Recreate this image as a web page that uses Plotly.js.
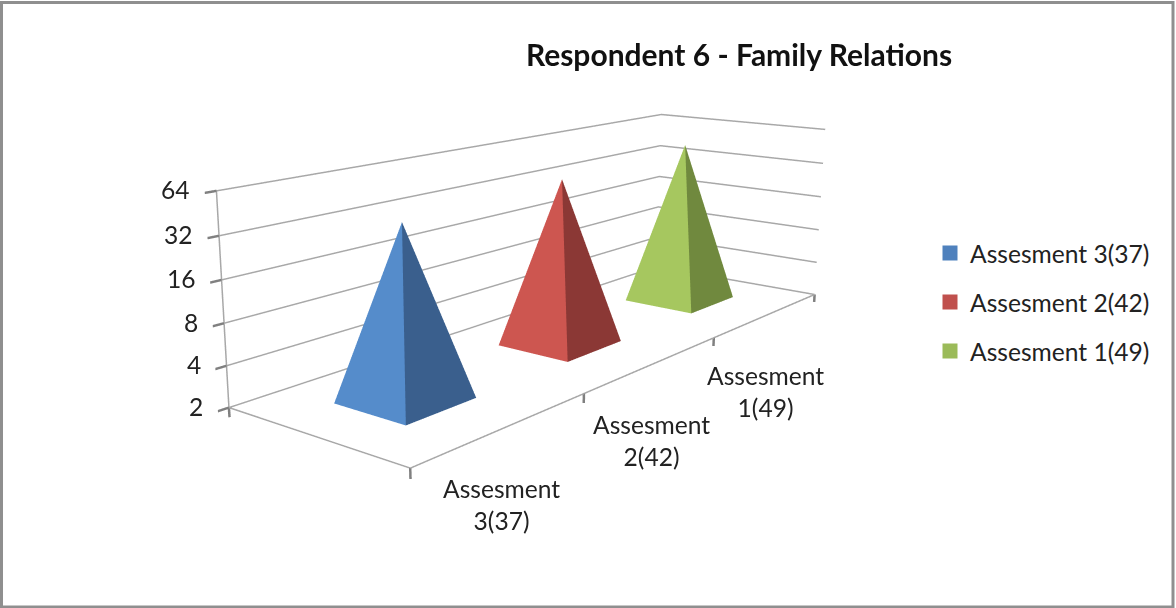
<!DOCTYPE html>
<html><head><meta charset="utf-8">
<script src="https://cdn.plot.ly/plotly-3.0.1.min.js"></script>
<style>html,body{margin:0;padding:0;background:#fff;overflow:hidden;width:1176px;height:608px}
#wrap{position:absolute;left:0;top:0;width:1176px;height:608px;overflow:hidden}
#c{position:absolute;left:-170px;top:-239.5px;width:1346px;height:1081px}</style>
</head><body><div id="wrap"><div id="c"></div></div>
<script>
const categories = ["Assesment 3(37)", "Assesment 2(42)", "Assesment 1(49)"];
const categoryLabels = ["Assesment<br>3(37)", "Assesment<br>2(42)", "Assesment<br>1(49)"];
const values = [37, 42, 49];
const axisTicks = [2, 4, 8, 16, 32, 64];
const lightColors = ["#558ccb", "#cd5650", "#a6c75f"];
const darkColors = ["#3a5f8d", "#8b3835", "#70893e"];
const legendColors = ["#4f81bd", "#c0504d", "#9bbb59"];

const W = 1346, H = 1081, OX = 170, OY = 239.5;
const px = v => (v + OX) / W, py = v => 1 - (v + OY) / H;
const half = 0.2, base = axisTicks[0], zFloorLow = 1.70;

const traces = [];
categories.forEach((name, i) => {
  const cx = i + 0.49, cy = 0.51;
  traces.push({
    type: "mesh3d", name: name, showlegend: false,
    x: [cx - half, cx + half, cx + half, cx - half, cx],
    y: [cy - half, cy - half, cy + half, cy + half, cy],
    z: [base, base, base, base, values[i]],
    i: [0, 1, 2, 3], j: [1, 2, 3, 0], k: [4, 4, 4, 4],
    facecolor: [darkColors[i], darkColors[i], lightColors[i], lightColors[i]],
    flatshading: true,
    lighting: {ambient: 1, diffuse: 0, specular: 0, roughness: 1, fresnel: 0},
    hoverinfo: "name"
  });
});
const zTop = axisTicks[axisTicks.length - 1];
// floor edges and the wall edge, from the axis extents
traces.push({type: "scatter3d", mode: "lines", showlegend: false, hoverinfo: "skip",
  x: [0, 0, 3, null, 0, 0], y: [1, 0, 0, null, 1, 1], z: [base, base, base, null, base, zTop],
  line: {color: "#a8a8a8", width: 3}});
// tick marks hanging under the floor
const tx = [], ty = [], tz = [];
[0, 1, 2, 3].forEach(k => { tx.push(k, k, null); ty.push(0, 0, null); tz.push(base, zFloorLow, null); });
tx.push(0, 0); ty.push(1, 1); tz.push(base, zFloorLow);
traces.push({type: "scatter3d", mode: "lines", showlegend: false, hoverinfo: "skip",
  x: tx, y: ty, z: tz, line: {color: "#808080", width: 5}});
// legend entries: markers sit inside the pyramids' bodies
categories.forEach((name, i) => traces.push({type: "scatter3d", mode: "markers", name: name,
  legendgroup: name, hoverinfo: "skip", x: [i + 0.49], y: [0.51], z: [base * 1.4],
  marker: {symbol: "square", size: 15, color: legendColors[i], line: {width: 0}}}));

const annotations = [];
const labelFont = {family: "Lato", size: 24.6, color: "#222"};
axisTicks.forEach(t => annotations.push({x: 0, y: 1, z: Math.log10(t), text: String(t), showarrow: false,
  xanchor: "right", yanchor: "middle", xshift: -24, yshift: 1, font: labelFont}));
categoryLabels.forEach((t, i) => annotations.push({x: i + 0.5, y: 0, z: Math.log10(base), text: t, showarrow: false,
  xanchor: "center", yanchor: "middle", yshift: -77, xshift: -2, font: labelFont}));
const common = {showbackground: false, showspikes: false, zeroline: false, showticklabels: false,
  showline: false, title: {text: ""}, showgrid: false, ticks: ""};
const layout = {
  width: W, height: H, margin: {l: 0, r: 0, t: 0, b: 0, pad: 0},
  paper_bgcolor: "#fff",
  title: {text: "<b>Respondent 6 - Family Relations</b>", x: px(739), xanchor: "center", y: py(55), yanchor: "middle",
    font: {family: "Lato", size: 30, color: "#111"}},
  scene: {
    domain: {x: [0, 1], y: [0, 1]},
    aspectmode: "manual", aspectratio: {x: 0.678, y: 0.2162, z: 0.1995},
    camera: {projection: {type: "perspective"},
      eye: {x: -1.0144, y: -0.7561, z: 0.2924},
      center: {x: -0.052, y: 0.036, z: -0.04265},
      up: {x: 0, y: 0, z: 1}},
    xaxis: Object.assign({}, common, {range: [0, 3]}),
    yaxis: Object.assign({}, common, {range: [0, 1]}),
    zaxis: Object.assign({}, common, {type: "log", range: [Math.log10(zFloorLow), Math.log10(zTop)], tickmode: "array", tickvals: axisTicks,
      showgrid: true, gridcolor: "#a8a8a8", gridwidth: 3, ticks: "outside", ticklen: 10, tickwidth: 5, tickcolor: "#808080"}),
    annotations: annotations
  },
  legend: {x: px(930), y: py(230), xanchor: "left", yanchor: "top", font: {family: "Lato", size: 24.6, color: "#222"}, tracegroupgap: 14, traceorder: "grouped", itemwidth: 30},
  shapes: [{type: "rect", xref: "paper", yref: "paper", x0: px(1.5), x1: px(1173), y0: py(2), y1: py(606.5), line: {color: "#8f8f8f", width: 3}}]
};
Plotly.newPlot("c", traces, layout, {displayModeBar: false});
</script></body></html>
